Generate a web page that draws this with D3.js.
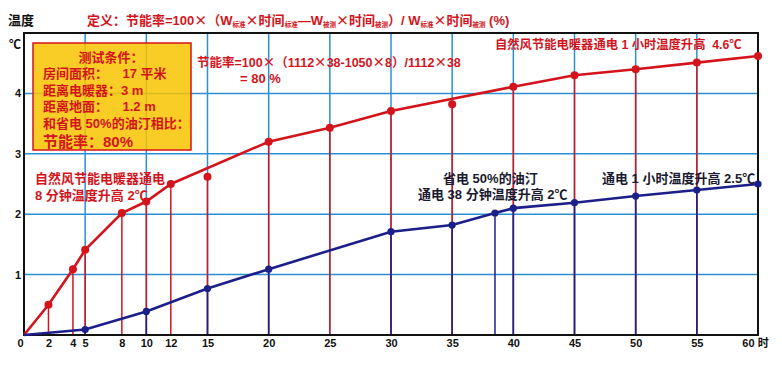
<!doctype html>
<html>
<head>
<meta charset="utf-8">
<script src="https://d3js.org/d3.v7.min.js"></script>
<style>
body { margin:0; background:#fff; }
text { font-family: "Liberation Sans", "Noto Sans CJK SC", sans-serif; font-weight: bold; }
.cjk { font-family: "Noto Sans CJK SC", sans-serif; }
</style>
</head>
<body>
<script>
var width = 782, height = 365;

// minutes on the x axis
var xTicks = [0, 2, 4, 5, 8, 10, 12, 15, 20, 25, 30, 35, 40, 45, 50, 55, 60];
var yTicks = [1, 2, 3, 4];
var gridX = [5, 10, 15, 20, 25, 30, 35, 40, 45, 50, 55];

// red: 自然风节能电暖器
var redLineT = [0, 2, 4, 5, 8, 10, 12, 20, 25, 30, 40, 45, 50, 55, 60];
var redLineV = [0, 0.50, 1.09, 1.41, 2.02, 2.21, 2.50, 3.20, 3.43, 3.71, 4.11, 4.30, 4.40, 4.51, 4.62];
var redDotT = [2, 4, 5, 8, 10, 12, 15, 20, 25, 30, 35, 40, 45, 50, 55, 60];
var redDotV = [0.50, 1.09, 1.41, 2.02, 2.21, 2.50, 2.62, 3.20, 3.43, 3.71, 3.82, 4.11, 4.30, 4.40, 4.51, 4.62];

// blue: 省电50%的油汀
var blueT = [0, 5, 10, 15, 20, 30, 35, 38.5, 40, 45, 50, 55, 60];
var blueV = [0, 0.09, 0.39, 0.77, 1.09, 1.71, 1.82, 2.02, 2.10, 2.19, 2.30, 2.40, 2.50];

var boxLines = ["房间面积：    17 平米", "距离电暖器：3 m", "距离地面：    1.2 m", "和省电 50%的油汀相比："];

var red = "#d4141c", navy = "#1c1f8a", grid = "#2a90d2";

var svg = d3.select("body").append("svg")
    .attr("width", width)
    .attr("height", height);

var x = d3.scaleLinear().domain([0, 60]).range([24, 758]);
var y = d3.scaleLinear().domain([0, 5]).range([335, 33]);

// grid
svg.append("g").selectAll("line").data(gridX).enter().append("line")
    .attr("x1", d => x(d)).attr("x2", d => x(d))
    .attr("y1", y(0)).attr("y2", y(5))
    .attr("stroke", grid).attr("stroke-width", 1.5);
svg.append("g").selectAll("line").data(yTicks).enter().append("line")
    .attr("x1", x(0)).attr("x2", x(60))
    .attr("y1", d => y(d)).attr("y2", d => y(d))
    .attr("stroke", grid).attr("stroke-width", 1.5);

// drop lines
var redDots = redDotT.map((t, i) => ({t: t, v: redDotV[i]}));
var blueDots = blueT.map((t, i) => ({t: t, v: blueV[i]})).filter(d => d.t > 0);

svg.append("g").selectAll("line").data(redDots).enter().append("line")
    .attr("x1", d => x(d.t)).attr("x2", d => x(d.t))
    .attr("y1", d => y(d.v)).attr("y2", y(0))
    .attr("stroke", red).attr("stroke-width", 1.5);
svg.append("g").selectAll("line").data(blueDots).enter().append("line")
    .attr("x1", d => x(d.t)).attr("x2", d => x(d.t))
    .attr("y1", d => y(d.v)).attr("y2", y(0))
    .attr("stroke", navy).attr("stroke-width", 1.5);

// frame
svg.append("rect")
    .attr("x", x(0)).attr("y", y(5))
    .attr("width", x(60) - x(0)).attr("height", y(0) - y(5))
    .attr("fill", "none").attr("stroke", "#111").attr("stroke-width", 2);

// axes
var xAxis = d3.axisBottom(x).tickValues(xTicks).tickSize(0).tickPadding(4)
    .tickFormat(d => d === 60 ? "60 时" : d);
var gx = svg.append("g").attr("transform", "translate(0," + y(0) + ")").call(xAxis);
gx.select(".domain").remove();
gx.selectAll("text").attr("font-size", 11).attr("fill", "#111")
    .style("font-family", '"Liberation Sans", "Noto Sans CJK SC", sans-serif').style("font-weight", "bold");
gx.selectAll(".tick").filter(d => d === 0).select("text").attr("dx", -4);
gx.selectAll(".tick").filter(d => d === 60).select("text").attr("dx", -3);

var yAxis = d3.axisLeft(y).tickValues(yTicks).tickSize(0).tickPadding(3).tickFormat(d3.format("d"));
var gy = svg.append("g").attr("transform", "translate(" + x(0) + ",0)").call(yAxis);
gy.select(".domain").remove();
gy.selectAll("text").attr("font-size", 11).attr("fill", "#111")
    .style("font-family", '"Liberation Sans", sans-serif').style("font-weight", "bold");

// test-condition box
var box = svg.append("g");
box.append("rect").attr("x", 33).attr("y", 43).attr("width", 158).attr("height", 107)
    .attr("fill", "#f8c400").attr("fill-opacity", 0.85)
    .attr("stroke", red).attr("stroke-width", 1.5);
box.append("text").attr("x", 111).attr("y", 62).attr("text-anchor", "middle")
    .attr("font-size", 13).attr("fill", red).text("测试条件：");
box.selectAll("text.l").data(boxLines).enter().append("text").attr("class", "l")
    .attr("x", 43).attr("y", (d, i) => 78 + i * 16.7)
    .attr("font-size", 13).attr("fill", red).style("white-space", "pre").text(d => d);
box.append("text").attr("x", 43).attr("y", 147)
    .attr("font-size", 15).attr("fill", red).text("节能率：80%");

// curves
var line = d3.line().x(d => x(d[0])).y(d => y(d[1]));
svg.append("path").datum(redLineT.map((t, i) => [t, redLineV[i]]))
    .attr("d", line).attr("fill", "none").attr("stroke", red).attr("stroke-width", 2.6);
svg.append("path").datum(blueT.map((t, i) => [t, blueV[i]]))
    .attr("d", line).attr("fill", "none").attr("stroke", navy).attr("stroke-width", 2.6);

svg.append("g").selectAll("circle").data(redDots).enter().append("circle")
    .attr("cx", d => x(d.t)).attr("cy", d => y(d.v)).attr("r", 4).attr("fill", red);
svg.append("g").selectAll("circle").data(blueDots).enter().append("circle")
    .attr("cx", d => x(d.t)).attr("cy", d => y(d.v)).attr("r", 3.6).attr("fill", navy);

// labels
svg.append("text").attr("x", 8).attr("y", 25).attr("font-size", 13).attr("fill", "#111").text("温度");
svg.append("text").attr("x", 9).attr("y", 49).attr("font-size", 12).attr("fill", "#111").text("℃");

// add text with full-width multiplication signs
function addTimes(sel, str, base, sub) {
    str.split(/(×)/).forEach(function (s) {
        if (!s) return;
        var t = sel.append("tspan").text(s);
        if (s === "×") t.attr("class", "cjk");
        if (base !== undefined) t.attr("y", base);
        if (sub) t.attr("font-size", 6.5).attr("y", base + 2);
    });
}

var title = svg.append("text").attr("x", 87).attr("y", 25).attr("font-size", 13).attr("fill", red)
    .style("white-space", "pre");
var parts = [["定义：节能率=100×（W", 0], ["标准", 1], ["×时间", 0], ["标准", 1], ["—W", 0], ["被测", 1],
             ["×时间", 0], ["被测", 1], ["）/ W", 0], ["标准", 1], ["×时间", 0], ["被测", 1], [" (%)", 0]];
parts.forEach(function (p) { addTimes(title, p[0], 25, p[1]); });

var f1 = svg.append("text").attr("x", 197).attr("y", 67).attr("font-size", 12.5).attr("fill", red);
addTimes(f1, "节能率=100×（1112×38-1050×8）/1112×38");
svg.append("text").attr("x", 240).attr("y", 83).attr("font-size", 13).attr("fill", red)
    .text("= 80 %");

svg.append("text").attr("x", 495).attr("y", 49).attr("font-size", 12.3).attr("fill", red)
    .style("white-space", "pre").text("自然风节能电暖器通电 1 小时温度升高  4.6℃");
svg.append("text").attr("x", 35).attr("y", 183).attr("font-size", 13).attr("fill", red)
    .text("自然风节能电暖器通电");
svg.append("text").attr("x", 35).attr("y", 200).attr("font-size", 13).attr("fill", red)
    .text("8 分钟温度升高 2℃");

svg.append("text").attr("x", 443).attr("y", 183).attr("font-size", 13).attr("fill", "#1a1a30")
    .text("省电 50%的油汀");
svg.append("text").attr("x", 418).attr("y", 199).attr("font-size", 13).attr("fill", "#1a1a30")
    .text("通电 38 分钟温度升高 2℃");
svg.append("text").attr("x", 602).attr("y", 183).attr("font-size", 13).attr("fill", "#1a1a30")
    .text("通电 1 小时温度升高 2.5℃");
</script>
</body>
</html>
